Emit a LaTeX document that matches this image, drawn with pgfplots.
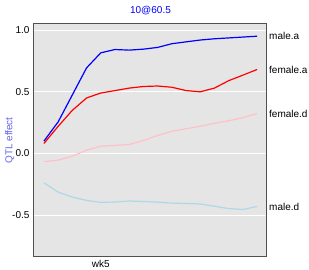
\documentclass[border=0pt]{standalone}
\usepackage{fontspec}
\setmainfont{Liberation Sans}
\usepackage{pgfplots}
\pgfplotsset{compat=1.18}
\definecolor{bggray}{RGB}{229,229,229}
\definecolor{framegray}{RGB}{80,80,80}
\definecolor{lpink}{RGB}{255,192,203}
\definecolor{lblue}{RGB}{173,216,230}
\definecolor{ylab}{RGB}{100,100,230}
\begin{document}
\begin{tikzpicture}
\begin{axis}[
  at={(0,0)}, anchor=south west,
  scale only axis, width=233pt, height=233pt,
  xmin=0.3, xmax=16.7, ymin=-0.84, ymax=1.05,
  clip=false,
  axis background/.style={fill=bggray},
  axis line style={framegray, line width=1pt},
  ytick={-0.5,0,0.5,1},
  y tick label style={/pgf/number format/fixed, /pgf/number format/fixed zerofill, /pgf/number format/precision=1},
  /pgf/number format/assume math mode=true,
  xtick={5}, xticklabels={wk5},
  major tick length=0pt,
  ymajorgrids, grid style={white, line width=1pt},
  tick label style={font=\fontsize{10}{12}\selectfont, black},
  yticklabel style={xshift=-1pt},
  xticklabel style={yshift=0pt},
  title={10@60.5}, title style={font=\fontsize{10}{12}\selectfont, text=blue, yshift=0pt},
  ylabel={QTL effect}, ylabel style={font=\fontsize{10}{12}\selectfont, text=ylab, yshift=-9pt},
  every axis plot/.append style={line width=1.2pt, line join=round},
]
\addplot[blue] coordinates {(1,0.10) (2,0.256) (3,0.475) (4,0.694) (5,0.816) (6,0.843) (7,0.838) (8,0.846) (9,0.86) (10,0.89) (11,0.905) (12,0.92) (13,0.93) (14,0.937) (15,0.944) (16,0.951)};
\addplot[red] coordinates {(1,0.081) (2,0.22) (3,0.35) (4,0.45) (5,0.49) (6,0.51) (7,0.53) (8,0.543) (9,0.547) (10,0.537) (11,0.51) (12,0.50) (13,0.53) (14,0.59) (15,0.635) (16,0.681)};
\addplot[lpink] coordinates {(1,-0.067) (2,-0.054) (3,-0.022) (4,0.027) (5,0.059) (6,0.065) (7,0.073) (8,0.105) (9,0.145) (10,0.18) (11,0.20) (12,0.22) (13,0.245) (14,0.265) (15,0.29) (16,0.324)};
\addplot[lblue] coordinates {(1,-0.238) (2,-0.314) (3,-0.354) (4,-0.381) (5,-0.397) (6,-0.394) (7,-0.386) (8,-0.39) (9,-0.395) (10,-0.403) (11,-0.406) (12,-0.41) (13,-0.428) (14,-0.447) (15,-0.455) (16,-0.43)};
\node[anchor=west, font=\fontsize{10}{12}\selectfont, inner sep=0pt, xshift=2pt] at (axis cs:16.7,0.951) {male.a};
\node[anchor=west, font=\fontsize{10}{12}\selectfont, inner sep=0pt, xshift=2pt] at (axis cs:16.7,0.681) {female.a};
\node[anchor=west, font=\fontsize{10}{12}\selectfont, inner sep=0pt, xshift=2pt] at (axis cs:16.7,0.324) {female.d};
\node[anchor=west, font=\fontsize{10}{12}\selectfont, inner sep=0pt, xshift=2pt] at (axis cs:16.7,-0.43) {male.d};
\end{axis}
\pgfresetboundingbox
\path[use as bounding box] (-34pt,-13pt) rectangle (275pt,257pt);
\end{tikzpicture}
\end{document}
